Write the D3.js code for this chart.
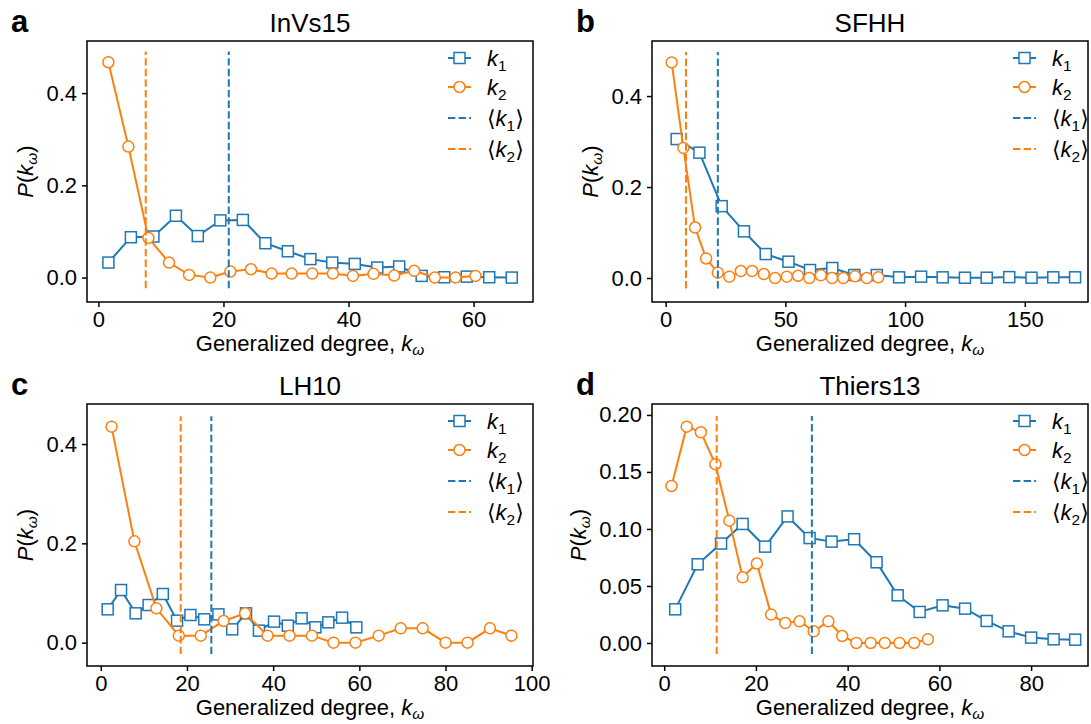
<!DOCTYPE html>
<html>
<head>
<meta charset="utf-8">
<script src="https://cdn.jsdelivr.net/npm/d3@7/dist/d3.min.js"></script>
<style>
  body { margin: 0; background: #fff; }
  svg text { font-family: "Liberation Sans", Arial, "DejaVu Sans", sans-serif; fill: #000; }
</style>
</head>
<body>
<svg id="fig" width="1091" height="724"></svg>
<script>
// ---- data ----
const panelTitles = ["InVs15", "SFHH", "LH10", "Thiers13"];
const panelLetters = ["a", "b", "c", "d"];

// a: InVs15
const invsK1X = [1.6, 5.2, 8.8, 12.4, 15.9, 19.5, 23.1, 26.7, 30.3, 33.9, 37.4, 41.0, 44.6, 48.1, 51.7, 55.3, 58.9, 62.5, 66.1];
const invsK1Y = [0.0325, 0.0875, 0.089, 0.134, 0.090, 0.124, 0.125, 0.0745, 0.057, 0.040, 0.0325, 0.0296, 0.0217, 0.024, 0.0036, 0.0007, 0.002, 0.0007, 0.0];
const invsK2X = [1.6, 4.8, 8.0, 11.3, 14.5, 17.9, 21.1, 24.4, 27.7, 30.9, 34.2, 37.5, 40.7, 44.0, 47.3, 50.5, 53.8, 57.1, 60.3];
const invsK2Y = [0.467, 0.284, 0.086, 0.0325, 0.0058, 0.0, 0.013, 0.018, 0.0087, 0.0087, 0.0087, 0.0087, 0.0036, 0.008, 0.0043, 0.0145, 0.0, 0.0, 0.0036];
const invsMeans = [20.85, 7.57];

// b: SFHH
const sfhhK1X = [4.6, 14.1, 23.4, 32.7, 41.8, 51.3, 60.3, 69.6, 78.8, 88.2, 97.5, 106.7, 115.7, 125.0, 134.1, 143.5, 152.8, 161.9, 171.0];
const sfhhK1Y = [0.3055, 0.2755, 0.158, 0.1026, 0.0527, 0.0359, 0.0176, 0.022, 0.0066, 0.0066, 0.0015, 0.003, 0.0015, 0.0007, 0.0007, 0.002, 0.0007, 0.0015, 0.0015];
const sfhhK2X = [2.5, 7.4, 12.3, 16.9, 21.8, 26.6, 31.4, 36.1, 41.0, 45.7, 50.6, 55.3, 60.0, 64.8, 69.5, 74.2, 79.1, 84.0, 88.8];
const sfhhK2Y = [0.474, 0.286, 0.111, 0.043, 0.0117, 0.003, 0.0154, 0.0154, 0.0088, 0.0, 0.003, 0.005, 0.0, 0.0059, 0.0, 0.0, 0.0037, 0.0, 0.0015];
const sfhhMeans = [21.8, 8.5];

// c: LH10
const lhK1X = [1.6, 4.7, 8.1, 11.1, 14.4, 17.7, 20.8, 24.0, 27.3, 30.5, 33.7, 36.7, 40.2, 43.4, 46.6, 49.8, 52.8, 56.0, 59.3];
const lhK1Y = [0.0671, 0.106, 0.0591, 0.0758, 0.098, 0.0443, 0.0557, 0.0470, 0.0570, 0.0268, 0.0591, 0.0242, 0.0423, 0.0342, 0.0490, 0.0309, 0.0409, 0.0503, 0.0309];
const lhK2X = [2.5, 7.8, 12.9, 18.1, 23.2, 28.5, 33.5, 38.7, 43.8, 49.0, 54.0, 59.1, 64.5, 69.6, 74.7, 80.0, 85.1, 90.3, 95.3];
const lhK2Y = [0.435, 0.204, 0.0691, 0.0141, 0.0141, 0.0436, 0.0591, 0.0141, 0.0141, 0.0141, 0.0, 0.0, 0.0141, 0.0289, 0.0289, 0.0, 0.0, 0.0289, 0.0141];
const lhMeans = [25.65, 18.55];

// d: Thiers13
const thK1X = [2.4, 7.3, 12.4, 17.1, 22.0, 26.9, 31.7, 36.5, 41.4, 46.3, 50.9, 55.7, 60.7, 65.6, 70.3, 75.1, 80.0, 84.9, 89.6];
const thK1Y = [0.0295, 0.069, 0.0872, 0.1044, 0.0845, 0.111, 0.092, 0.0889, 0.091, 0.0708, 0.0418, 0.0272, 0.033, 0.0301, 0.0193, 0.0102, 0.0047, 0.0032, 0.0029];
const thK2X = [1.6, 4.9, 8.0, 11.15, 14.2, 17.1, 20.2, 23.3, 26.4, 29.5, 32.6, 35.8, 38.8, 41.9, 45.0, 48.1, 51.3, 54.5, 57.5];
const thK2Y = [0.1377, 0.1897, 0.1848, 0.1568, 0.1073, 0.0576, 0.0697, 0.0249, 0.0175, 0.019, 0.0102, 0.019, 0.0061, 0.0, 0.0, 0.0, 0.0, 0.0, 0.0032];
const thMeans = [32.2, 11.45];

// tick labels
const xTicksA = [0, 20, 40, 60];
const xTicksB = [0, 50, 100, 150];
const xTicksC = [0, 20, 40, 60, 80, 100];
const xTicksD = [0, 20, 40, 60, 80];
const yTicksABC = [0.0, 0.2, 0.4];
const yTicksD = [0.00, 0.05, 0.10, 0.15, 0.20];

// ---- layout ----
const BLUE = "#1f77b4", ORANGE = "#ff7f0e";
const FS = 22;
const svg = d3.select("#fig");

const panels = [
  { title: panelTitles[0], letter: panelLetters[0], k1x: invsK1X, k1y: invsK1Y, k2x: invsK2X, k2y: invsK2Y, means: invsMeans,
    box: [87, 533, 41, 302], xDom: [-1.82, 69.5], yDom: [-0.053, 0.513], vspan: [-0.023, 0.49],
    xTicks: xTicksA, yTicks: yTicksABC, yFmt: ".1f", legendDx: 85 },
  { title: panelTitles[1], letter: panelLetters[1], k1x: sfhhK1X, k1y: sfhhK1Y, k2x: sfhhK2X, k2y: sfhhK2Y, means: sfhhMeans,
    box: [652, 1088, 41, 302], xDom: [-5.7, 176.4], yDom: [-0.0527, 0.521], vspan: [-0.023, 0.497],
    xTicks: xTicksB, yTicks: yTicksABC, yFmt: ".1f", legendDx: 75 },
  { title: panelTitles[2], letter: panelLetters[2], k1x: lhK1X, k1y: lhK1Y, k2x: lhK2X, k2y: lhK2Y, means: lhMeans,
    box: [87, 533, 404, 666], xDom: [-3.2, 100.3], yDom: [-0.047, 0.4806], vspan: [-0.023, 0.456],
    xTicks: xTicksC, yTicks: yTicksABC, yFmt: ".1f", legendDx: 85 },
  { title: panelTitles[3], letter: panelLetters[3], k1x: thK1X, k1y: thK1Y, k2x: thK2X, k2y: thK2Y, means: thMeans,
    box: [652, 1088, 404, 666], xDom: [-2.66, 92.4], yDom: [-0.0202, 0.2096], vspan: [-0.0097, 0.199],
    xTicks: xTicksD, yTicks: yTicksD, yFmt: ".2f", legendDx: 75 }
];

// italic k with a subscript, optional angle brackets
function mathK(text, sub, brackets) {
  if (brackets) text.append("tspan").text("\u27E8");
  text.append("tspan").style("font-style", "italic").text("k");
  text.append("tspan").attr("dy", 5).style("font-size", (FS * 0.7) + "px").text(sub);
  text.append("tspan").attr("dy", -5).text(brackets ? "\u27E9" : "");
}

function drawSquare(g, cx, cy, color) {
  g.append("rect")
    .attr("x", cx - 5.5).attr("y", cy - 5.5)
    .attr("width", 11).attr("height", 11)
    .attr("fill", "#fff").attr("stroke", color).attr("stroke-width", 1.5);
}
function drawCircle(g, cx, cy, color) {
  g.append("circle")
    .attr("cx", cx).attr("cy", cy).attr("r", 5.5)
    .attr("fill", "#fff").attr("stroke", color).attr("stroke-width", 1.5);
}

function drawPanel(p, i) {
  const [L, R, T, B] = p.box;
  const g = svg.append("g");
  const x = d3.scaleLinear().domain(p.xDom).range([L, R]);
  const y = d3.scaleLinear().domain(p.yDom).range([B, T]);

  const clipId = "clip" + i;
  g.append("clipPath").attr("id", clipId)
    .append("rect").attr("x", L).attr("y", T).attr("width", R - L).attr("height", B - T);
  const plot = g.append("g").attr("clip-path", `url(#${clipId})`);

  // k1 line + squares, then k2 line + circles
  const k1 = p.k1x.map((v, j) => [v, p.k1y[j]]);
  const k2 = p.k2x.map((v, j) => [v, p.k2y[j]]);
  const line = d3.line().x(d => x(d[0])).y(d => y(d[1]));

  plot.append("path").datum(k1).attr("d", line)
    .attr("fill", "none").attr("stroke", BLUE).attr("stroke-width", 2);
  k1.forEach(d => drawSquare(plot, x(d[0]), y(d[1]), BLUE));

  plot.append("path").datum(k2).attr("d", line)
    .attr("fill", "none").attr("stroke", ORANGE).attr("stroke-width", 2);
  k2.forEach(d => drawCircle(plot, x(d[0]), y(d[1]), ORANGE));

  // mean lines
  [BLUE, ORANGE].forEach((c, j) => {
    plot.append("line")
      .attr("x1", x(p.means[j])).attr("x2", x(p.means[j]))
      .attr("y1", y(p.vspan[0])).attr("y2", y(p.vspan[1]))
      .attr("stroke", c).attr("stroke-width", 2).attr("stroke-dasharray", "7.4,3.2");
  });

  // axes
  const xAxis = g.append("g").attr("transform", `translate(0,${B})`)
    .call(d3.axisBottom(x).tickValues(p.xTicks).tickSize(5).tickPadding(4).tickFormat(d3.format("d")));
  const yAxis = g.append("g").attr("transform", `translate(${L},0)`)
    .call(d3.axisLeft(y).tickValues(p.yTicks).tickSize(5).tickPadding(5).tickFormat(d3.format(p.yFmt)));
  [xAxis, yAxis].forEach(a => {
    a.select(".domain").remove();
    a.selectAll(".tick line").attr("stroke", "#000").attr("stroke-width", 1.5);
    a.selectAll(".tick text").style("font-size", FS + "px").attr("fill", "#000");
  });

  // frame
  g.append("rect").attr("x", L).attr("y", T).attr("width", R - L).attr("height", B - T)
    .attr("fill", "none").attr("stroke", "#000").attr("stroke-width", 1.5);

  // title and panel letter
  g.append("text").attr("x", (L + R) / 2).attr("y", T - 9)
    .attr("text-anchor", "middle").style("font-size", "26px").text(p.title);
  g.append("text").attr("x", i % 2 === 0 ? 11 : 576).attr("y", T - 9)
    .style("font-size", "31px").style("font-weight", "bold").text(p.letter);

  // x label
  const xl = g.append("text").attr("x", (L + R) / 2).attr("y", B + 49)
    .attr("text-anchor", "middle").style("font-size", FS + "px");
  xl.append("tspan").text("Generalized degree, ");
  xl.append("tspan").style("font-style", "italic").text("k");
  xl.append("tspan").attr("dy", 4).style("font-style", "italic").style("font-size", (FS * 0.7) + "px").text("\u03C9");

  // y label, placed left of the tick labels
  const bb = yAxis.node().getBBox();
  const lx = L + bb.x - 13, ly = (T + B) / 2;
  const yl = g.append("text").attr("transform", `translate(${lx},${ly}) rotate(-90)`)
    .attr("text-anchor", "middle").style("font-size", FS + "px");
  yl.append("tspan").style("font-style", "italic").text("P");
  yl.append("tspan").text("(");
  yl.append("tspan").style("font-style", "italic").text("k");
  yl.append("tspan").attr("dy", 4).style("font-style", "italic").style("font-size", (FS * 0.7) + "px").text("\u03C9");
  yl.append("tspan").attr("dy", -4).text(")");

  // legend
  const hx = R - p.legendDx, hw = 23;
  const rows = [T + 17, T + 46, T + 77, T + 108];
  const lg = g.append("g");
  rows.forEach((ry, j) => {
    const c = j % 2 === 0 ? BLUE : ORANGE;
    const h = lg.append("line").attr("x1", hx).attr("x2", hx + hw).attr("y1", ry).attr("y2", ry)
      .attr("stroke", c).attr("stroke-width", 2);
    if (j >= 2) h.attr("stroke-dasharray", "7.4,3.2");
    if (j === 0) drawSquare(lg, hx + hw / 2, ry, BLUE);
    if (j === 1) drawCircle(lg, hx + hw / 2, ry, ORANGE);
    const t = lg.append("text").attr("x", hx + hw + 16).attr("y", ry + 8).style("font-size", FS + "px");
    mathK(t, j % 2 === 0 ? "1" : "2", j >= 2);
  });
}

panels.forEach(drawPanel);
</script>
</body>
</html>
